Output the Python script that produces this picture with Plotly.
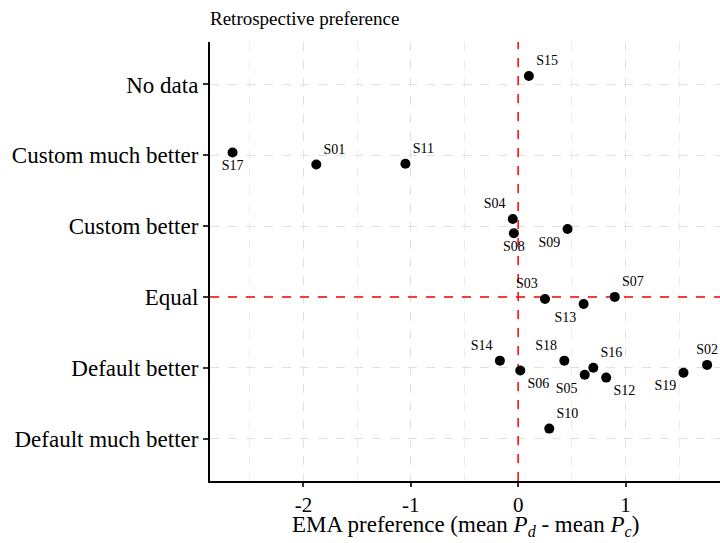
import plotly.graph_objects as go

# Retrospective preference categories (bottom to top)
categories = ["Default much better", "Default better", "Equal",
              "Custom better", "Custom much better", "No data"]

# Participants: EMA preference (x) and jittered category position (y)
subjects = ["S15", "S17", "S01", "S11", "S04", "S08", "S09", "S03", "S13", "S07",
            "S14", "S06", "S18", "S16", "S05", "S12", "S19", "S02", "S10"]
ema_pref = [0.10, -2.66, -1.88, -1.05, -0.05, -0.04, 0.46, 0.25, 0.61, 0.90,
            -0.17, 0.02, 0.43, 0.70, 0.62, 0.82, 1.54, 1.76, 0.29]
retro_pos = [6.12, 5.04, 4.87, 4.88, 4.10, 3.90, 3.96, 2.97, 2.90, 3.00,
             2.10, 1.96, 2.10, 2.00, 1.90, 1.86, 1.93, 2.04, 1.14]

# Reference lines: no EMA difference, and the "Equal" category
ref_x = 0
ref_y = 3

x_range = [-2.87, 1.88]
y_range = [0.4, 6.6]

label_side = {
    "S15": "top right", "S17": "bottom center", "S01": "top right", "S11": "top right",
    "S04": "top left", "S08": "bottom center", "S09": "bottom left", "S03": "top left",
    "S13": "bottom left", "S07": "top right", "S14": "top left", "S06": "bottom right",
    "S18": "top left", "S16": "top right", "S05": "bottom left", "S12": "bottom right",
    "S19": "bottom left", "S02": "top center", "S10": "top right",
}

serif = "Liberation Serif, Times New Roman, serif"
ref_line = dict(color="red", width=1.5, dash="dash")

fig = go.Figure()
# dashed reference lines, drawn first so points sit on top
fig.add_trace(go.Scatter(x=[ref_x, ref_x], y=y_range, mode="lines", line=ref_line,
                         showlegend=False, hoverinfo="skip"))
fig.add_trace(go.Scatter(x=x_range, y=[ref_y, ref_y], mode="lines", line=ref_line,
                         showlegend=False, hoverinfo="skip"))
fig.add_trace(go.Scatter(
    x=ema_pref, y=retro_pos, mode="markers+text",
    text=subjects, textposition=[label_side[s] for s in subjects],
    textfont=dict(family=serif, size=14, color="black"),
    marker=dict(size=10, color="black"),
    showlegend=False, hoverinfo="skip",
))

fig.update_layout(
    width=720, height=543,
    margin=dict(l=210, r=0, t=42, b=62),
    paper_bgcolor="white", plot_bgcolor="white",
    font=dict(family=serif, color="black"),
    title=dict(text="Retrospective preference", x=210 / 720, xanchor="left",
               y=1 - 18 / 543, yanchor="middle",
               font=dict(family=serif, size=19, color="black")),
    annotations=[dict(
        text="EMA preference (mean <i>P</i><sub><i>d</i></sub> - mean <i>P</i><sub><i>c</i></sub>)",
        xref="paper", yref="paper", x=0.5, y=-45 / 439, xanchor="center", yanchor="middle",
        showarrow=False, font=dict(family=serif, size=23, color="black"),
    )],
)

fig.update_xaxes(
    range=x_range, tickvals=[-2, -1, 0, 1], ticktext=["-2", "-1", "0", "1"],
    showline=True, linecolor="black", linewidth=2, mirror=False,
    ticks="outside", ticklen=4, tickcolor="#333333", tickwidth=1.5,
    tickfont=dict(family=serif, size=21, color="black"),
    showgrid=True, gridcolor="#e0e0e0", griddash="dash", gridwidth=1.2,
    minor=dict(tickvals=[-2.5, -1.5, -0.5, 0.5, 1.5], showgrid=True,
               gridcolor="#ececec", griddash="dash", gridwidth=1, ticks=""),
    zeroline=False,
)

fig.update_yaxes(
    range=y_range, tickvals=list(range(1, len(categories) + 1)), ticktext=categories,
    showline=True, linecolor="black", linewidth=2, mirror=False,
    ticks="outside", ticklen=5, tickcolor="#333333", tickwidth=1.5,
    tickfont=dict(family=serif, size=23, color="black"),
    showgrid=True, gridcolor="#e0e0e0", griddash="dash", gridwidth=1.2,
    zeroline=False,
)

fig.write_html("out.html")
